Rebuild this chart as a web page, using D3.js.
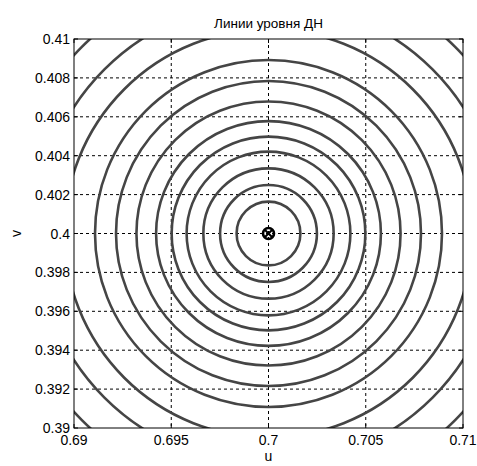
<!DOCTYPE html>
<html lang="en">
<head>
<meta charset="UTF-8">
<title>Линии уровня ДН</title>
<script src="https://d3js.org/d3.v7.min.js"></script>
<style>
  body { margin: 0; background: #fff; }
  svg { display: block; font-family: 'Liberation Sans', Arial, sans-serif; }
  .grid line { stroke: #000; stroke-width: 1; stroke-dasharray: 3,3; }
  .contour { fill: none; stroke: #454545; stroke-width: 2.6; }
  .tick-label { font-size: 14px; fill: #000; }
</style>
</head>
<body>
<svg width="477" height="466"></svg>
<script>
// axis ranges and ticks
const uTicks = [0.69, 0.695, 0.7, 0.705, 0.71];
const vTicks = [0.39, 0.392, 0.394, 0.396, 0.398, 0.4, 0.402, 0.404, 0.406, 0.408, 0.41];
const center = [0.7, 0.4];
// radii of the level lines (in u/v units)
const levelRadii = [0.00164, 0.00249, 0.00335, 0.00421, 0.00498, 0.00578,
                    0.00679, 0.00784, 0.00892, 0.01049, 0.01193, 0.01357];

const svg = d3.select("svg");
const margin = {left: 74, top: 39, right: 14, bottom: 38};
const W = 477, H = 466;

const x = d3.scaleLinear().domain([0.69, 0.71]).range([margin.left, W - margin.right]);
const y = d3.scaleLinear().domain([0.39, 0.41]).range([H - margin.bottom, margin.top]);

svg.append("clipPath").attr("id", "plot")
  .append("rect")
  .attr("x", x(0.69)).attr("y", y(0.41))
  .attr("width", x(0.71) - x(0.69)).attr("height", y(0.39) - y(0.41));

// grid
const grid = svg.append("g").attr("class", "grid");
grid.selectAll(".gx").data(uTicks.slice(1, -1)).join("line")
  .attr("x1", d => x(d)).attr("x2", d => x(d))
  .attr("y1", y(0.41)).attr("y2", y(0.39));
grid.selectAll(".gy").data(vTicks.slice(1, -1)).join("line")
  .attr("x1", x(0.69)).attr("x2", x(0.71))
  .attr("y1", d => y(d)).attr("y2", d => y(d));

// level lines
svg.append("g").attr("clip-path", "url(#plot)")
  .selectAll("ellipse").data(levelRadii).join("ellipse")
  .attr("class", "contour")
  .attr("cx", x(center[0])).attr("cy", y(center[1]))
  .attr("rx", d => x(center[0] + d) - x(center[0]))
  .attr("ry", d => y(center[1]) - y(center[1] + d));

// centre marker (o + x)
const cx = x(center[0]), cy = y(center[1]);
svg.append("circle").attr("cx", cx).attr("cy", cy).attr("r", 5.5)
  .attr("fill", "none").attr("stroke", "#000").attr("stroke-width", 2.6);
svg.append("path")
  .attr("d", `M${cx-3.5},${cy-3.5}L${cx+3.5},${cy+3.5}M${cx-3.5},${cy+3.5}L${cx+3.5},${cy-3.5}`)
  .attr("stroke", "#000").attr("stroke-width", 2);

// box
svg.append("rect")
  .attr("x", x(0.69)).attr("y", y(0.41))
  .attr("width", x(0.71) - x(0.69)).attr("height", y(0.39) - y(0.41))
  .attr("fill", "none").attr("stroke", "#000").attr("stroke-width", 1);

// small inward ticks
const ticks = svg.append("g").attr("stroke", "#000").attr("stroke-width", 1);
uTicks.forEach(d => {
  ticks.append("line").attr("x1", x(d)).attr("x2", x(d)).attr("y1", y(0.39)).attr("y2", y(0.39) - 4);
  ticks.append("line").attr("x1", x(d)).attr("x2", x(d)).attr("y1", y(0.41)).attr("y2", y(0.41) + 4);
});
vTicks.forEach(d => {
  ticks.append("line").attr("x1", x(0.69)).attr("x2", x(0.69) + 4).attr("y1", y(d)).attr("y2", y(d));
  ticks.append("line").attr("x1", x(0.71)).attr("x2", x(0.71) - 4).attr("y1", y(d)).attr("y2", y(d));
});

// tick labels
svg.selectAll(".ul").data(uTicks).join("text")
  .attr("class", "tick-label")
  .attr("x", d => x(d)).attr("y", y(0.39) + 17)
  .attr("text-anchor", "middle")
  .text(d => d3.format("")(d));
svg.selectAll(".vl").data(vTicks).join("text")
  .attr("class", "tick-label")
  .attr("x", x(0.69) - 4).attr("y", d => y(d) + 5)
  .attr("text-anchor", "end")
  .text(d => d3.format("")(+d.toFixed(3)));

// title and axis labels
svg.append("text").attr("x", (x(0.69) + x(0.71)) / 2).attr("y", 28)
  .attr("text-anchor", "middle").attr("font-size", 13.5).text("Линии уровня ДН");
svg.append("text").attr("x", (x(0.69) + x(0.71)) / 2).attr("y", 461)
  .attr("text-anchor", "middle").attr("font-size", 14).text("u");
svg.append("text").attr("transform", `translate(21,${cy}) rotate(-90)`)
  .attr("text-anchor", "middle").attr("font-size", 14).text("v");
</script>
</body>
</html>
